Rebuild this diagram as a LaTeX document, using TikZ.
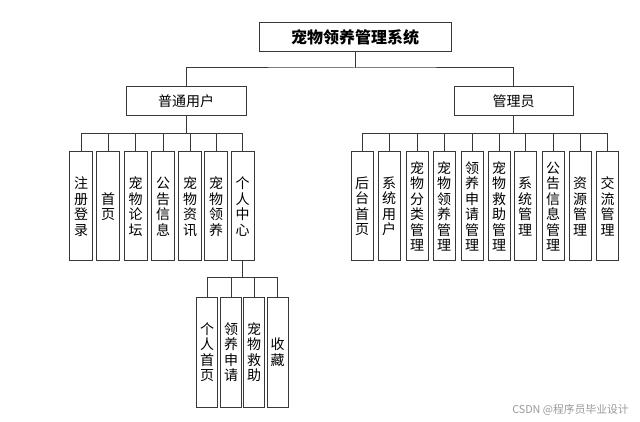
\documentclass[tikz,border=0pt]{standalone}
\usepackage{fontspec}
\newfontfamily\cjk{Noto Sans CJK SC}
\begin{document}
\begin{tikzpicture}[x=1pt,y=-1pt,
  box/.style={draw=black!78,line width=1pt,fill=white,inner sep=0pt,align=center,
    font=\cjk\fontsize{14}{15.5}\selectfont},
  hbox/.style={box,minimum width=#1,minimum height=29},
  vbox/.style={box,minimum width=#1,minimum height=109},
  lbox/.style={box,minimum width=21,minimum height=110},
  link/.style={draw=black!78,line width=1pt}]
\useasboundingbox (0,0) rectangle (640,422);
% top
\node[hbox=192,font=\cjk\fontsize{16}{18}\selectfont\bfseries] (title) at (355,37.5) {宠物领养管理系统};
\node[hbox=120] (u) at (186,101.5) {普通用户};
\node[hbox=119] (m) at (513.5,101.5) {管理员};
\coordinate (bus0) at (355,68);
\draw[link] (title.south) -- (bus0);
\draw[link] (u.north) |- (bus0) -| (m.north);
% user children
\node[vbox=23] (u1) at (81,206.5) {注\\册\\登\\录};
\node[vbox=23] (u2) at (108,206.5) {首\\页};
\node[vbox=23] (u3) at (135.5,206.5) {宠\\物\\论\\坛};
\node[vbox=23] (u4) at (163,206.5) {公\\告\\信\\息};
\node[vbox=23] (u5) at (190,206.5) {宠\\物\\资\\讯};
\node[vbox=23] (u6) at (216,206.5) {宠\\物\\领\\养};
\node[vbox=23] (u7) at (242.5,206.5) {个\\人\\中\\心};
\foreach \c in {u1,u2,u3,u4,u5,u6,u7}
  \draw[link] (u.south) -- ++(0,17) -| (\c.north);
% admin children
\node[vbox=22] (m1) at (362,206.5) {后\\台\\首\\页};
\node[vbox=22] (m2) at (389,206.5) {系\\统\\用\\户};
\node[vbox=22] (m3) at (417,206.5) {宠\\物\\分\\类\\管\\理};
\node[vbox=22] (m4) at (444,206.5) {宠\\物\\领\\养\\管\\理};
\node[vbox=22] (m5) at (472,206.5) {领\\养\\申\\请\\管\\理};
\node[vbox=22] (m6) at (499,206.5) {宠\\物\\救\\助\\管\\理};
\node[vbox=22] (m7) at (525,206.5) {系\\统\\管\\理};
\node[vbox=22] (m8) at (553,206.5) {公\\告\\信\\息\\管\\理};
\node[vbox=22] (m9) at (580,206.5) {资\\源\\管\\理};
\node[vbox=22] (m10) at (607.5,206.5) {交\\流\\管\\理};
\foreach \c in {m1,m2,m3,m4,m5,m6,m7,m8,m9,m10}
  \draw[link] (m.south) -- ++(0,17) -| (\c.north);
% personal center children
\node[lbox] (p1) at (207,352) {个\\人\\首\\页};
\node[lbox] (p2) at (231,352) {领\\养\\申\\请};
\node[lbox] (p3) at (254,352) {宠\\物\\救\\助};
\node[lbox] (p4) at (277.5,352) {收\\藏};
\foreach \c in {p1,p2,p3,p4}
  \draw[link] (u7.south) -- ++(0,16) -| (\c.north);
% watermark
\node[font=\cjk\fontsize{10.8}{12}\selectfont,text=black!40,inner sep=0pt] (wm) at (570.5,410) {CSDN @程序员毕业设计};
\end{tikzpicture}
\end{document}
